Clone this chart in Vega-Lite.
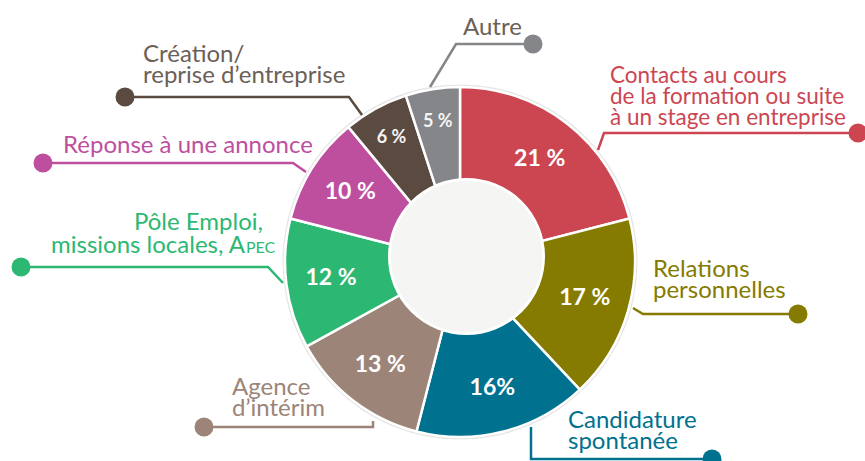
{
  "$schema": "https://vega.github.io/schema/vega-lite/v6.json",
  "width": 865,
  "height": 461,
  "autosize": {"type": "none"},
  "padding": 0,
  "background": "white",
  "config": {"view": {"stroke": null}, "font": "Lato"},
  "datasets": {
    "slices": [
      {"cat": "Contacts", "ord": 1, "value": 21, "pct": "21 %"},
      {"cat": "Relations", "ord": 2, "value": 17, "pct": "17 %"},
      {"cat": "Candidature", "ord": 3, "value": 16, "pct": "16%"},
      {"cat": "Agence", "ord": 4, "value": 13, "pct": "13 %"},
      {"cat": "Pole", "ord": 5, "value": 12, "pct": "12 %"},
      {"cat": "Reponse", "ord": 6, "value": 10, "pct": "10 %"},
      {"cat": "Creation", "ord": 7, "value": 6, "pct": "6 %"},
      {"cat": "Autre", "ord": 8, "value": 5, "pct": "5 %"}
    ],
    "leaders": [
      {"cat": "Contacts", "k": 0, "x": 398, "y": 129},
      {"cat": "Contacts", "k": 1, "x": 144, "y": 129},
      {"cat": "Contacts", "k": 2, "x": 138, "y": 112},
      {"cat": "Relations", "k": 0, "x": 338, "y": -52},
      {"cat": "Relations", "k": 1, "x": 183, "y": -52},
      {"cat": "Relations", "k": 2, "x": 173, "y": -46},
      {"cat": "Candidature", "k": 0, "x": 252, "y": -197},
      {"cat": "Candidature", "k": 1, "x": 71, "y": -197},
      {"cat": "Candidature", "k": 2, "x": 71, "y": -165},
      {"cat": "Agence", "k": 0, "x": -256, "y": -165},
      {"cat": "Agence", "k": 1, "x": -87, "y": -165},
      {"cat": "Agence", "k": 2, "x": -87, "y": -159},
      {"cat": "Pole", "k": 0, "x": -439, "y": -5},
      {"cat": "Pole", "k": 1, "x": -192, "y": -5},
      {"cat": "Pole", "k": 2, "x": -177, "y": -21},
      {"cat": "Reponse", "k": 0, "x": -417, "y": 99},
      {"cat": "Reponse", "k": 1, "x": -167, "y": 99},
      {"cat": "Reponse", "k": 2, "x": -154, "y": 90},
      {"cat": "Creation", "k": 0, "x": -335, "y": 165},
      {"cat": "Creation", "k": 1, "x": -111, "y": 165},
      {"cat": "Creation", "k": 2, "x": -98, "y": 147},
      {"cat": "Autre", "k": 0, "x": 73, "y": 218},
      {"cat": "Autre", "k": 1, "x": -4, "y": 218},
      {"cat": "Autre", "k": 2, "x": -30, "y": 175}
    ],
    "labels": [
      {"cat": "Contacts", "anchor": "narrow", "x": 150, "y": 179, "text": "Contacts au cours\nde la formation ou suite\nà un stage en entreprise"},
      {"cat": "Relations", "anchor": "start", "x": 193, "y": -15, "text": "Relations\npersonnelles"},
      {"cat": "Candidature", "anchor": "start", "x": 108, "y": -166, "text": "Candidature\nspontanée"},
      {"cat": "Agence", "anchor": "start", "x": -228, "y": -133, "text": "Agence\nd’intérim"},
      {"cat": "Pole", "anchor": "end", "x": -197, "y": 32, "text": "Pôle Emploi,"},
      {"cat": "Pole", "anchor": "end", "x": -215, "y": 9, "text": "missions locales, A"},
      {"cat": "Pole", "anchor": "sc", "x": -214, "y": 9, "text": "PEC"},
      {"cat": "Reponse", "anchor": "start", "x": -397, "y": 109, "text": "Réponse à une annonce"},
      {"cat": "Creation", "anchor": "start", "x": -317, "y": 200, "text": "Création/\nreprise d’entreprise"},
      {"cat": "Autre", "anchor": "start", "x": 3, "y": 227, "text": "Autre"}
    ]
  },
  "layer": [
    {
      "data": {"values": [{"c": 1}]},
      "mark": {"type": "point", "shape": "circle", "filled": true, "size": 126025, "color": "#e6e6e6", "opacity": 1},
      "encoding": {
        "x": {"datum": 0, "type": "quantitative", "scale": {"domain": [-460, 405], "nice": false, "zero": false}, "axis": null},
        "y": {"datum": 0, "type": "quantitative", "scale": {"domain": [-199, 262], "nice": false, "zero": false}, "axis": null}
      }
    },
    {
      "data": {"name": "slices"},
      "mark": {"type": "arc", "outerRadius": 175, "innerRadius": 0, "stroke": "white", "strokeWidth": 2.5},
      "encoding": {
        "x": {"datum": 0, "type": "quantitative", "scale": {"domain": [-460, 405], "nice": false, "zero": false}, "axis": null},
        "y": {"datum": 0, "type": "quantitative", "scale": {"domain": [-199, 262], "nice": false, "zero": false}, "axis": null},
        "theta": {"field": "value", "type": "quantitative", "stack": true},
        "order": {"field": "ord", "type": "quantitative"},
        "color": {"field": "cat", "type": "nominal", "legend": null,
          "scale": {"domain": ["Contacts", "Relations", "Candidature", "Agence", "Pole", "Reponse", "Creation", "Autre"],
                    "range": ["#cc4652", "#857b00", "#00718e", "#9c8578", "#2cb872", "#be4f9f", "#5a4a3f", "#858689"]}}
      }
    },
    {
      "data": {"values": [{"c": 1}]},
      "mark": {"type": "point", "shape": "circle", "filled": true, "size": 23716, "color": "#f5f6f3", "stroke": "#ffffff", "strokeWidth": 3, "opacity": 1},
      "encoding": {
        "x": {"datum": 6.5, "type": "quantitative", "scale": {"domain": [-460, 405], "nice": false, "zero": false}, "axis": null},
        "y": {"datum": 5.5, "type": "quantitative", "scale": {"domain": [-199, 262], "nice": false, "zero": false}, "axis": null}
      }
    },
    {
      "data": {"name": "slices"},
      "mark": {"type": "text", "radius": 130, "fontSize": 23, "fontWeight": "bold", "color": "white", "align": "center", "baseline": "middle"},
      "encoding": {
        "x": {"datum": 0, "type": "quantitative", "scale": {"domain": [-460, 405], "nice": false, "zero": false}, "axis": null},
        "y": {"datum": 0, "type": "quantitative", "scale": {"domain": [-199, 262], "nice": false, "zero": false}, "axis": null},
        "theta": {"field": "value", "type": "quantitative", "stack": true},
        "order": {"field": "ord", "type": "quantitative"},
        "text": {"condition": {"test": "datum.value > 6", "field": "pct"}, "value": ""}
      }
    },
    {
      "data": {"name": "slices"},
      "mark": {"type": "text", "radius": 142, "fontSize": 18, "fontWeight": "bold", "color": "#f4f4f4", "align": "center", "baseline": "middle"},
      "encoding": {
        "x": {"datum": 0, "type": "quantitative", "scale": {"domain": [-460, 405], "nice": false, "zero": false}, "axis": null},
        "y": {"datum": 0, "type": "quantitative", "scale": {"domain": [-199, 262], "nice": false, "zero": false}, "axis": null},
        "theta": {"field": "value", "type": "quantitative", "stack": true},
        "order": {"field": "ord", "type": "quantitative"},
        "text": {"condition": {"test": "datum.value <= 6", "field": "pct"}, "value": ""}
      }
    },
    {
      "data": {"name": "leaders"},
      "mark": {"type": "line", "strokeWidth": 2.5, "interpolate": "linear"},
      "encoding": {
        "x": {"field": "x", "type": "quantitative", "scale": {"domain": [-460, 405], "nice": false, "zero": false}, "axis": null},
        "y": {"field": "y", "type": "quantitative", "scale": {"domain": [-199, 262], "nice": false, "zero": false}, "axis": null},
        "order": {"field": "k", "type": "quantitative"},
        "color": {"field": "cat", "type": "nominal", "legend": null}
      }
    },
    {
      "data": {"name": "leaders"},
      "transform": [{"filter": "datum.k == 0"}],
      "mark": {"type": "point", "shape": "circle", "filled": true, "size": 361, "opacity": 1},
      "encoding": {
        "x": {"field": "x", "type": "quantitative", "scale": {"domain": [-460, 405], "nice": false, "zero": false}, "axis": null},
        "y": {"field": "y", "type": "quantitative", "scale": {"domain": [-199, 262], "nice": false, "zero": false}, "axis": null},
        "color": {"field": "cat", "type": "nominal", "legend": null}
      }
    },
    {
      "data": {"name": "labels"},
      "transform": [{"filter": "datum.anchor == 'start'"}],
      "mark": {"type": "text", "align": "left", "baseline": "alphabetic", "fontSize": 24, "fontWeight": 400, "lineHeight": 21, "lineBreak": "\n"},
      "encoding": {
        "x": {"field": "x", "type": "quantitative", "scale": {"domain": [-460, 405], "nice": false, "zero": false}, "axis": null},
        "y": {"field": "y", "type": "quantitative", "scale": {"domain": [-199, 262], "nice": false, "zero": false}, "axis": null},
        "text": {"field": "text"},
        "color": {"condition": {"test": "datum.cat == 'Autre' || datum.cat == 'Creation'", "value": "#6c6057"}, "field": "cat", "type": "nominal", "legend": null}
      }
    },
    {
      "data": {"name": "labels"},
      "transform": [{"filter": "datum.anchor == 'narrow'"}],
      "mark": {"type": "text", "align": "left", "baseline": "alphabetic", "fontSize": 22.5, "fontWeight": 400, "lineHeight": 21, "lineBreak": "\n"},
      "encoding": {
        "x": {"field": "x", "type": "quantitative", "scale": {"domain": [-460, 405], "nice": false, "zero": false}, "axis": null},
        "y": {"field": "y", "type": "quantitative", "scale": {"domain": [-199, 262], "nice": false, "zero": false}, "axis": null},
        "text": {"field": "text"},
        "color": {"field": "cat", "type": "nominal", "legend": null}
      }
    },
    {
      "data": {"name": "labels"},
      "transform": [{"filter": "datum.anchor == 'end'"}],
      "mark": {"type": "text", "align": "right", "baseline": "alphabetic", "fontSize": 24, "fontWeight": 400, "lineHeight": 21, "lineBreak": "\n"},
      "encoding": {
        "x": {"field": "x", "type": "quantitative", "scale": {"domain": [-460, 405], "nice": false, "zero": false}, "axis": null},
        "y": {"field": "y", "type": "quantitative", "scale": {"domain": [-199, 262], "nice": false, "zero": false}, "axis": null},
        "text": {"field": "text"},
        "color": {"field": "cat", "type": "nominal", "legend": null}
      }
    },
    {
      "data": {"name": "labels"},
      "transform": [{"filter": "datum.anchor == 'sc'"}],
      "mark": {"type": "text", "align": "left", "baseline": "alphabetic", "fontSize": 16, "fontWeight": 400},
      "encoding": {
        "x": {"field": "x", "type": "quantitative", "scale": {"domain": [-460, 405], "nice": false, "zero": false}, "axis": null},
        "y": {"field": "y", "type": "quantitative", "scale": {"domain": [-199, 262], "nice": false, "zero": false}, "axis": null},
        "text": {"field": "text"},
        "color": {"field": "cat", "type": "nominal", "legend": null}
      }
    }
  ]
}
